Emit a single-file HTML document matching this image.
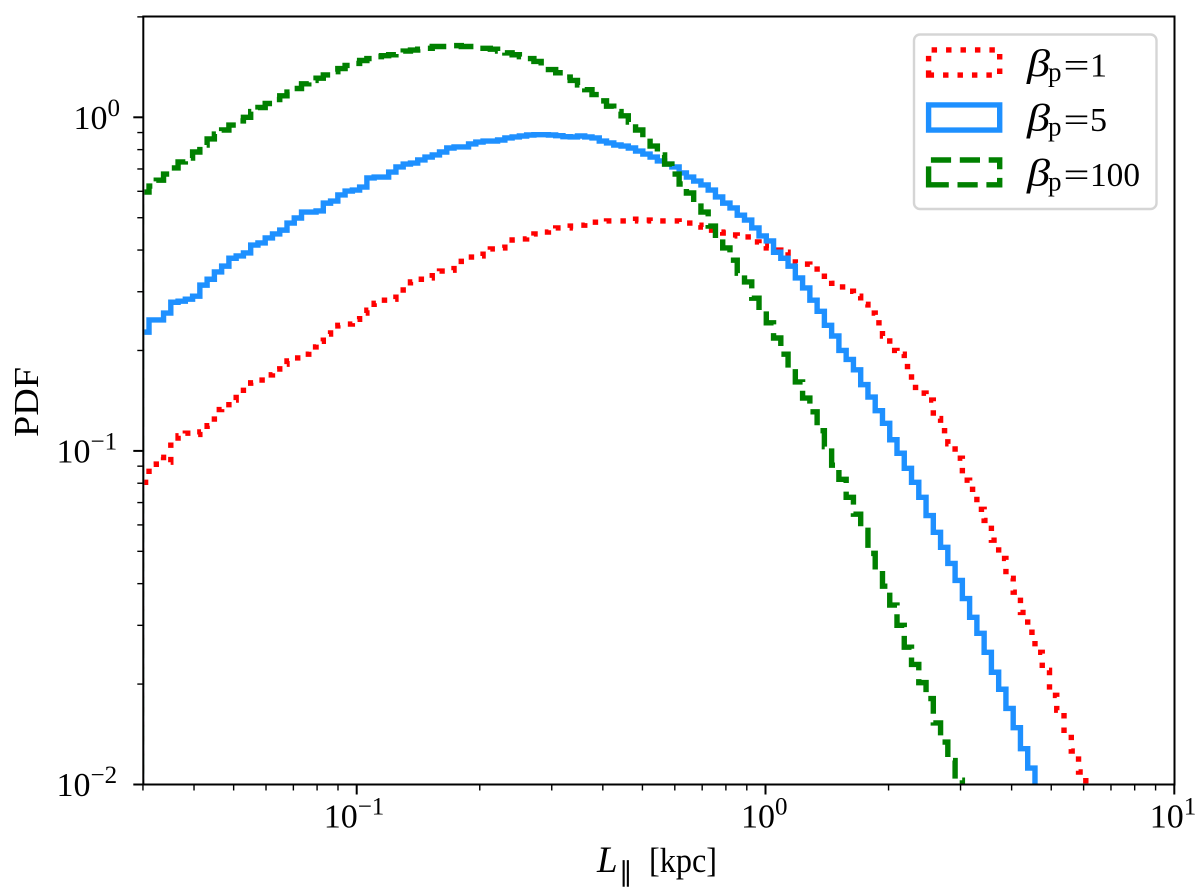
<!DOCTYPE html>
<html lang="en">
<head>
<meta charset="utf-8">
<title>PDF of L parallel</title>
<style>
html,body{margin:0;padding:0;background:#fff;width:1200px;height:892px;overflow:hidden}
svg{display:block}
text{font-family:"Liberation Serif",serif;fill:#000}
</style>
</head>
<body>
<svg id="chart" xmlns="http://www.w3.org/2000/svg" width="1200" height="892" viewBox="0 0 1200 892">
  <defs>
    <clipPath id="plot-clip"><rect x="144.4" y="16.5" width="1030.1" height="768"/></clipPath>
  </defs>
  <rect x="0" y="0" width="1200" height="892" fill="#fff"/>
  <g id="series" clip-path="url(#plot-clip)" fill="none"></g>
  <g id="ticks"></g>
  <g id="tick-labels"></g>
  <rect x="143.3" y="16.5" width="1031.2" height="768" fill="none" stroke="#000" stroke-width="2"/>

  <g>
    <text transform="translate(38,437) rotate(-90)" font-size="35" textLength="70" lengthAdjust="spacingAndGlyphs">PDF</text>
  </g>
  <g>
    <text x="597" y="872" font-size="37" font-style="italic">L</text>
    <text x="619" y="881" font-size="27">∥</text>
    <text x="649" y="872" font-size="35" textLength="68" lengthAdjust="spacingAndGlyphs">[kpc]</text>
  </g>

  <g>
    <rect x="914" y="34.5" width="242.5" height="174.5" rx="6" ry="6" fill="#fff" stroke="#d5d5d5" stroke-width="2.4"/>
    <g>
      <path d="M928.6 75.1H999.7V49.9H928.6Z" fill="none" stroke="#ff0000" stroke-width="5.4" stroke-dasharray="5.45 9"/>
      <text x="1027" y="76" font-size="38" font-style="italic" textLength="23" lengthAdjust="spacingAndGlyphs">β</text>
      <text x="1048" y="81" font-size="27">p</text>
      <text x="1063.5" y="76.5" font-size="34" textLength="26" lengthAdjust="spacingAndGlyphs">=</text>
      <text x="1090" y="76.5" font-size="34">1</text>
    </g>
    <g>
      <path d="M928.6 130.1H999.7V104.9H928.6Z" fill="none" stroke="#1e90ff" stroke-width="5.4"/>
      <text x="1027" y="130.5" font-size="38" font-style="italic" textLength="23" lengthAdjust="spacingAndGlyphs">β</text>
      <text x="1048" y="135.5" font-size="27">p</text>
      <text x="1063.5" y="131" font-size="34" textLength="26" lengthAdjust="spacingAndGlyphs">=</text>
      <text x="1090" y="131" font-size="34">5</text>
    </g>
    <g>
      <path d="M928.6 184.8H999.7V160H928.6Z" fill="none" stroke="#008000" stroke-width="5.4" stroke-dasharray="20.2 8.7"/>
      <text x="1027" y="185.5" font-size="38" font-style="italic" textLength="23" lengthAdjust="spacingAndGlyphs">β</text>
      <text x="1048" y="190.5" font-size="27">p</text>
      <text x="1063.5" y="186" font-size="34" textLength="26" lengthAdjust="spacingAndGlyphs">=</text>
      <text x="1090" y="186" font-size="34" textLength="50" lengthAdjust="spacingAndGlyphs">100</text>
    </g>
  </g>
</svg>
<script>
// Histogram values, one per logarithmic bin.
const firstBinEdge = 0.0298;
const logBinWidth = 0.017764;

const beta1Values = [
.0805,.0912,.0957,.0925,.107,.111,.113,.112,.114,.119,
.133,.134,.142,.149,.156,.160,.163,.169,.176,.182,
.186,.190,.195,.205,.213,.224,.237,.238,.240,.248,
.259,.264,.277,.283,.285,.297,.312,.321,.327,.330,
.344,.346,.348,.361,.378,.381,.384,.400,.403,.406,
.420,.429,.432,.438,.447,.453,.464,.466,.466,.472,
.475,.482,.485,.485,.489,.489,.489,.489,.495,.492,
.489,.489,.489,.489,.485,.482,.475,.469,.459,.453,
.450,.444,.441,.438,.423,.411,.406,.400,.394,.384,
.366,.363,.361,.344,.327,.318,.310,.301,.291,.275,
.259,.242,.221,.200,.195,.179,.155,.149,.142,.125,
.115,.105,.0951,.0817,.0767,.0668,.0619,.0540,.0476,.0415,
.0377,.0328,.0286,.0249,.0220,.0185,.0167,.0142,.0126,.0109,
.0096];

const beta5Values = [
.227,.247,.247,.259,.279,.281,.285,.291,.314,.327,
.344,.358,.378,.384,.392,.414,.420,.435,.447,.459,
.482,.499,.520,.520,.524,.553,.561,.585,.601,.605,
.618,.658,.662,.662,.685,.710,.724,.729,.745,.760,
.771,.787,.809,.815,.815,.832,.843,.849,.849,.855,
.867,.873,.879,.885,.887,.887,.885,.881,.875,.873,
.879,.873,.867,.849,.838,.826,.820,.809,.792,.776,
.760,.740,.724,.710,.681,.662,.644,.627,.605,.577,
.553,.535,.509,.492,.466,.441,.426,.394,.378,.358,
.330,.308,.283,.262,.238,.221,.200,.188,.175,.158,
.145,.132,.121,.108,.0984,.0887,.0805,.0726,.0640,.0570,
.0514,.0460,.0409,.0361,.0317,.0284,.0249,.0217,.0193,.0169,
.0148,.0128,.0112,.0096];

const beta100Values = [
.597,.622,.648,.676,.705,.735,.755,.787,.826,.861,
.891,.916,.948,.975,1.00,1.04,1.07,1.10,1.13,1.16,
1.19,1.22,1.26,1.29,1.31,1.34,1.37,1.40,1.43,1.45,
1.48,1.50,1.52,1.53,1.54,1.56,1.58,1.59,1.60,1.61,
1.63,1.63,1.64,1.64,1.63,1.63,1.61,1.61,1.60,1.58,
1.56,1.54,1.52,1.50,1.47,1.43,1.39,1.36,1.32,1.29,
1.25,1.21,1.17,1.12,1.08,1.04,1.01,.968,.916,.867,
.820,.771,.724,.676,.631,.593,.553,.520,.472,.432,
.406,.373,.341,.321,.287,.262,.242,.218,.195,.177,
.161,.144,.131,.115,.103,.0906,.0822,.0726,.0646,.0578,
.0493,.0439,.0393,.0345,.0300,.0258,.0229,.0202,.0181,.0153,
.0134,.0118,.0103,.00895];

const xMajorExponents = [-1, 0, 1];
const yMajorExponents = [-2, -1, 0];
const xMajorLabels = ["−1", "0", "1"];
const yMajorLabels = ["−2", "−1", "0"];
const xMinorTicks = [.03,.04,.05,.06,.07,.08,.09,.2,.3,.4,.5,.6,.7,.8,.9,2,3,4,5,6,7,8,9];
const yMinorTicks = [.02,.03,.04,.05,.06,.07,.08,.09,.2,.3,.4,.5,.6,.7,.8,.9,2];

const SVG_NS = "http://www.w3.org/2000/svg";
const AXIS_BOTTOM = 784.5;
const AXIS_LEFT = 143.3;

function xPx(v) { return 356.7 + 408.8 * (Math.log10(v) + 1); }
function yPx(v) { return 117.3 - 333.6 * Math.log10(v); }
function binEdge(k) { return firstBinEdge * Math.pow(10, k * logBinWidth); }

function stepPath(values) {
  let d = "M" + xPx(binEdge(0)).toFixed(2) + " " + (AXIS_BOTTOM + 60);
  values.forEach(function (v, i) {
    const y = yPx(v).toFixed(2);
    d += "V" + y + "H" + xPx(binEdge(i + 1)).toFixed(2);
  });
  d += "V" + (AXIS_BOTTOM + 60);
  return d;
}

const seriesGroup = document.getElementById("series");

const lineBeta1 = document.createElementNS(SVG_NS, "path");


lineBeta1.setAttribute("d", stepPath(beta1Values));
lineBeta1.setAttribute("stroke", "#ff0000");
lineBeta1.setAttribute("stroke-width", "5.4");
lineBeta1.setAttribute("stroke-dasharray", "5.45 9");
lineBeta1.setAttribute("stroke-dashoffset", "-2");
lineBeta1.setAttribute("stroke-linejoin", "miter");
seriesGroup.appendChild(lineBeta1);

const lineBeta5 = document.createElementNS(SVG_NS, "path");


lineBeta5.setAttribute("d", stepPath(beta5Values));
lineBeta5.setAttribute("stroke", "#1e90ff");
lineBeta5.setAttribute("stroke-width", "5.4");
lineBeta5.setAttribute("stroke-linejoin", "miter");
seriesGroup.appendChild(lineBeta5);

const lineBeta100 = document.createElementNS(SVG_NS, "path");


lineBeta100.setAttribute("d", stepPath(beta100Values));
lineBeta100.setAttribute("stroke", "#008000");
lineBeta100.setAttribute("stroke-width", "5.4");
lineBeta100.setAttribute("stroke-dasharray", "20.2 8.7");
lineBeta100.setAttribute("stroke-dashoffset", "-13");
lineBeta100.setAttribute("stroke-linejoin", "miter");
seriesGroup.appendChild(lineBeta100);

const ticksGroup = document.getElementById("ticks");

function addTick(x1, y1, x2, y2, w, name) {
  const t = document.createElementNS(SVG_NS, "line");
  
  
  t.setAttribute("x1", x1);
  t.setAttribute("y1", y1);
  t.setAttribute("x2", x2);
  t.setAttribute("y2", y2);
  t.setAttribute("stroke", "#000");
  t.setAttribute("stroke-width", w);
  ticksGroup.appendChild(t);
}

xMinorTicks.forEach(function (v) {
  addTick(xPx(v), AXIS_BOTTOM, xPx(v), AXIS_BOTTOM + 6, 1.4, "x-minor-tick");
});
yMinorTicks.forEach(function (v) {
  addTick(AXIS_LEFT, yPx(v), AXIS_LEFT - 6, yPx(v), 1.4, "y-minor-tick");
});
xMajorExponents.forEach(function (e) {
  addTick(xPx(Math.pow(10, e)), AXIS_BOTTOM, xPx(Math.pow(10, e)), AXIS_BOTTOM + 10, 2, "x-major-tick");
});
yMajorExponents.forEach(function (e) {
  addTick(AXIS_LEFT, yPx(Math.pow(10, e)), AXIS_LEFT - 10, yPx(Math.pow(10, e)), 2, "y-major-tick");
});

const labelsGroup = document.getElementById("tick-labels");

function addPowerLabel(x, baseline, sup, name) {
  const g = document.createElementNS(SVG_NS, "g");
  
  
  const base = document.createElementNS(SVG_NS, "text");
  base.setAttribute("x", x);
  base.setAttribute("y", baseline);
  base.setAttribute("font-size", "34");
  base.textContent = "10";
  g.appendChild(base);
  const exp = document.createElementNS(SVG_NS, "text");
  exp.setAttribute("x", x + 34);
  exp.setAttribute("y", baseline - 13);
  exp.setAttribute("font-size", "25");
  exp.textContent = sup;
  g.appendChild(exp);
  labelsGroup.appendChild(g);
}

function labelWidth(sup) { return sup.length > 1 ? 63 : 46; }

xMajorExponents.forEach(function (e, i) {
  const sup = xMajorLabels[i];
  const width = labelWidth(sup);
  addPowerLabel(xPx(Math.pow(10, e)) - width / 2 - 1.5, 827.5, sup, "x-tick-label");
});
yMajorExponents.forEach(function (e, i) {
  const sup = yMajorLabels[i];
  const width = labelWidth(sup);
  addPowerLabel(119.5 - width, yPx(Math.pow(10, e)) + 11.5, sup, "y-tick-label");
});
</script>
</body>
</html>
